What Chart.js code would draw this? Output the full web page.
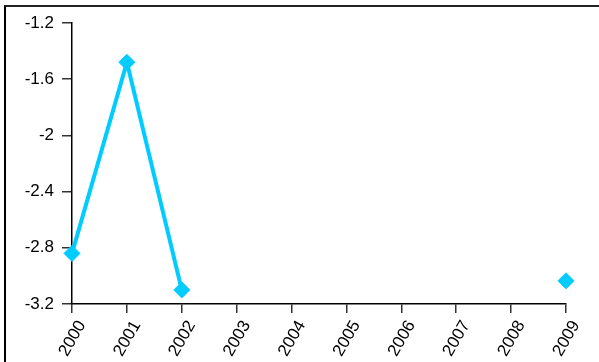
<!DOCTYPE html>
<html><head><meta charset="utf-8">
<script src="https://cdn.jsdelivr.net/npm/chart.js@4"></script>
<style>
html,body{margin:0;padding:0;background:#fff;}
#wrap{position:relative;width:599px;height:362px;}
#frame{position:absolute;left:4px;top:5px;right:0;bottom:0;border-top:2px solid #222;border-left:2px solid #000;pointer-events:none;}
canvas{position:absolute;left:0;top:0;}
</style></head>
<body>
<div id="wrap"><canvas id="c" width="599" height="362"></canvas><div id="frame"></div></div>
<script>
const years = ['2000','2001','2002','2003','2004','2005','2006','2007','2008','2009'];
const values = [-2.84, -1.48, -3.10, null, null, null, null, null, null, -3.035];
const yMin = -3.2, yMax = -1.2, yStep = 0.4;

new Chart(document.getElementById('c'), {
  type: 'line',
  data: {
    labels: years,
    datasets: [{
      data: values,
      borderColor: '#00ccff',
      backgroundColor: '#00ccff',
      borderWidth: 4,
      pointStyle: 'rectRot',
      pointRadius: 8,
      pointHoverRadius: 8,
      pointBorderWidth: 1,
      spanGaps: false,
      tension: 0
    }]
  },
  options: {
    responsive: false,
    animation: false,
    events: [],
    layout: { padding: { top: 23, right: 33, left: 0, bottom: 0 } },
    plugins: { legend: { display: false }, tooltip: { enabled: false } },
    scales: {
      x: {
        offset: false,
        grid: { display: true, drawOnChartArea: false, drawTicks: true, tickLength: 9, color: '#333', lineWidth: 1.5 },
        border: { display: true, color: '#000', width: 1.5 },
        ticks: { color: '#000', font: { family: 'Liberation Sans, Arial', size: 17 }, minRotation: 60, maxRotation: 60, padding: 4, labelOffset: 10, autoSkip: false },
        afterFit: s => { s.height = 58; }
      },
      y: {
        min: yMin, max: yMax,
        grid: { display: true, drawOnChartArea: false, drawTicks: true, tickLength: 10, color: '#333', lineWidth: 1.5 },
        border: { display: true, color: '#000', width: 1.5 },
        ticks: { stepSize: yStep, color: '#000', font: { family: 'Liberation Sans, Arial', size: 17 }, padding: 8,
          callback: v => String(parseFloat(Number(v).toFixed(1))) },
        afterFit: s => { s.width = 72; }
      }
    }
  }
});
</script>
</body></html>
